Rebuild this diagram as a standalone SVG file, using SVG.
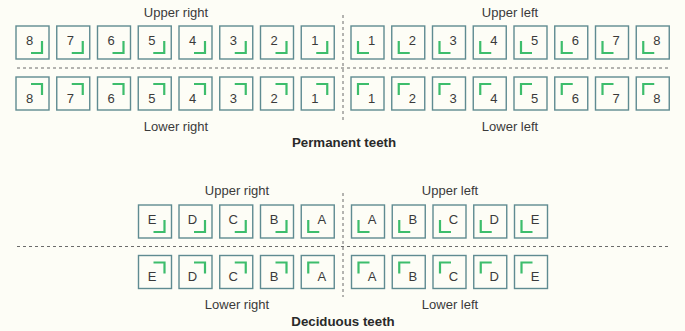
<svg xmlns="http://www.w3.org/2000/svg" width="685" height="331" viewBox="0 0 685 331">
<style>
.bg{fill:#fdfdf6}
.box{fill:none;stroke:#5f8b91;stroke-width:1.4}
.mk{fill:none;stroke:#3dbd6c;stroke-width:2.2}
.n{font-family:"Liberation Sans",Arial,sans-serif;font-size:13px;fill:#3a3a3a;text-anchor:middle}
.lbl{font-family:"Liberation Sans",Arial,sans-serif;font-size:13px;fill:#3a3a3a;text-anchor:middle}
.ttl{font-family:"Liberation Sans",Arial,sans-serif;font-size:13.3px;font-weight:bold;fill:#2a2a2a;text-anchor:middle}
.dash{stroke:#6b6b6b;stroke-width:1;stroke-dasharray:3 3;fill:none}
</style>
<defs>
<g id="ur"><rect class="box" x="0" y="0" width="33" height="33"/><path class="mk" d="M26,15 V27 H15"/></g>
<g id="ul"><rect class="box" x="0" y="0" width="33" height="33"/><path class="mk" d="M7,15 V27 H18"/></g>
<g id="lr"><rect class="box" x="0" y="0" width="33" height="33"/><path class="mk" d="M15,7 H26 V18"/></g>
<g id="ll"><rect class="box" x="0" y="0" width="33" height="33"/><path class="mk" d="M18,7 H7 V18"/></g>
</defs>
<rect class="bg" x="0" y="0" width="685" height="331"/>
<g id="connectors">
<path class="dash" d="M17,68 H669"/>
<path class="dash" d="M343,15 V120"/>
<path class="dash" d="M17,246.5 H669"/>
<path class="dash" d="M343,193 V297"/>
</g>
<g id="labels">
<text class="lbl" x="176" y="17">Upper right</text>
<text class="lbl" x="510" y="17">Upper left</text>
<text class="lbl" x="176" y="131">Lower right</text>
<text class="lbl" x="510" y="131">Lower left</text>
<text class="ttl" x="344" y="147">Permanent teeth</text>
<text class="lbl" x="237" y="195">Upper right</text>
<text class="lbl" x="450" y="195">Upper left</text>
<text class="lbl" x="237" y="309">Lower right</text>
<text class="lbl" x="450" y="309">Lower left</text>
<text class="ttl" x="343" y="326">Deciduous teeth</text>
</g>
<!-- Permanent upper right -->
<g id="p-ur-8" transform="translate(16,26)"><use href="#ur"/><text class="n" x="13.5" y="19">8</text></g>
<g id="p-ur-7" transform="translate(56.75,26)"><use href="#ur"/><text class="n" x="13.5" y="19">7</text></g>
<g id="p-ur-6" transform="translate(97.5,26)"><use href="#ur"/><text class="n" x="13.5" y="19">6</text></g>
<g id="p-ur-5" transform="translate(138.25,26)"><use href="#ur"/><text class="n" x="13.5" y="19">5</text></g>
<g id="p-ur-4" transform="translate(179,26)"><use href="#ur"/><text class="n" x="13.5" y="19">4</text></g>
<g id="p-ur-3" transform="translate(219.75,26)"><use href="#ur"/><text class="n" x="13.5" y="19">3</text></g>
<g id="p-ur-2" transform="translate(260.5,26)"><use href="#ur"/><text class="n" x="13.5" y="19">2</text></g>
<g id="p-ur-1" transform="translate(301.25,26)"><use href="#ur"/><text class="n" x="13.5" y="19">1</text></g>
<!-- Permanent upper left -->
<g id="p-ul-1" transform="translate(351,26)"><use href="#ul"/><text class="n" x="20.5" y="19">1</text></g>
<g id="p-ul-2" transform="translate(391.75,26)"><use href="#ul"/><text class="n" x="20.5" y="19">2</text></g>
<g id="p-ul-3" transform="translate(432.5,26)"><use href="#ul"/><text class="n" x="20.5" y="19">3</text></g>
<g id="p-ul-4" transform="translate(473.25,26)"><use href="#ul"/><text class="n" x="20.5" y="19">4</text></g>
<g id="p-ul-5" transform="translate(514,26)"><use href="#ul"/><text class="n" x="20.5" y="19">5</text></g>
<g id="p-ul-6" transform="translate(554.75,26)"><use href="#ul"/><text class="n" x="20.5" y="19">6</text></g>
<g id="p-ul-7" transform="translate(595.5,26)"><use href="#ul"/><text class="n" x="20.5" y="19">7</text></g>
<g id="p-ul-8" transform="translate(636.25,26)"><use href="#ul"/><text class="n" x="20.5" y="19">8</text></g>
<!-- Permanent lower right -->
<g id="p-lr-8" transform="translate(16,77)"><use href="#lr"/><text class="n" x="13.5" y="25.5">8</text></g>
<g id="p-lr-7" transform="translate(56.75,77)"><use href="#lr"/><text class="n" x="13.5" y="25.5">7</text></g>
<g id="p-lr-6" transform="translate(97.5,77)"><use href="#lr"/><text class="n" x="13.5" y="25.5">6</text></g>
<g id="p-lr-5" transform="translate(138.25,77)"><use href="#lr"/><text class="n" x="13.5" y="25.5">5</text></g>
<g id="p-lr-4" transform="translate(179,77)"><use href="#lr"/><text class="n" x="13.5" y="25.5">4</text></g>
<g id="p-lr-3" transform="translate(219.75,77)"><use href="#lr"/><text class="n" x="13.5" y="25.5">3</text></g>
<g id="p-lr-2" transform="translate(260.5,77)"><use href="#lr"/><text class="n" x="13.5" y="25.5">2</text></g>
<g id="p-lr-1" transform="translate(301.25,77)"><use href="#lr"/><text class="n" x="13.5" y="25.5">1</text></g>
<!-- Permanent lower left -->
<g id="p-ll-1" transform="translate(351,77)"><use href="#ll"/><text class="n" x="20.5" y="25.5">1</text></g>
<g id="p-ll-2" transform="translate(391.75,77)"><use href="#ll"/><text class="n" x="20.5" y="25.5">2</text></g>
<g id="p-ll-3" transform="translate(432.5,77)"><use href="#ll"/><text class="n" x="20.5" y="25.5">3</text></g>
<g id="p-ll-4" transform="translate(473.25,77)"><use href="#ll"/><text class="n" x="20.5" y="25.5">4</text></g>
<g id="p-ll-5" transform="translate(514,77)"><use href="#ll"/><text class="n" x="20.5" y="25.5">5</text></g>
<g id="p-ll-6" transform="translate(554.75,77)"><use href="#ll"/><text class="n" x="20.5" y="25.5">6</text></g>
<g id="p-ll-7" transform="translate(595.5,77)"><use href="#ll"/><text class="n" x="20.5" y="25.5">7</text></g>
<g id="p-ll-8" transform="translate(636.25,77)"><use href="#ll"/><text class="n" x="20.5" y="25.5">8</text></g>
<!-- Deciduous upper right -->
<g id="d-ur-E" transform="translate(138.5,205)"><use href="#ur"/><text class="n" x="13.5" y="18.5">E</text></g>
<g id="d-ur-D" transform="translate(179,205)"><use href="#ur"/><text class="n" x="13.5" y="18.5">D</text></g>
<g id="d-ur-C" transform="translate(219.75,205)"><use href="#ur"/><text class="n" x="13.5" y="18.5">C</text></g>
<g id="d-ur-B" transform="translate(260.5,205)"><use href="#ur"/><text class="n" x="13.5" y="18.5">B</text></g>
<g id="d-ur-A" transform="translate(301.25,205)"><use href="#ul"/><text class="n" x="20.5" y="18.5">A</text></g>
<!-- Deciduous upper left -->
<g id="d-ul-A" transform="translate(351.5,205)"><use href="#ul"/><text class="n" x="20.5" y="18.5">A</text></g>
<g id="d-ul-B" transform="translate(392.25,205)"><use href="#ul"/><text class="n" x="20.5" y="18.5">B</text></g>
<g id="d-ul-C" transform="translate(433,205)"><use href="#ul"/><text class="n" x="20.5" y="18.5">C</text></g>
<g id="d-ul-D" transform="translate(473.75,205)"><use href="#ul"/><text class="n" x="20.5" y="18.5">D</text></g>
<g id="d-ul-E" transform="translate(514.5,205)"><use href="#ul"/><text class="n" x="20.5" y="18.5">E</text></g>
<!-- Deciduous lower right -->
<g id="d-lr-E" transform="translate(138.5,255.5)"><use href="#lr"/><text class="n" x="13.5" y="25.5">E</text></g>
<g id="d-lr-D" transform="translate(179,255.5)"><use href="#lr"/><text class="n" x="13.5" y="25.5">D</text></g>
<g id="d-lr-C" transform="translate(219.75,255.5)"><use href="#lr"/><text class="n" x="13.5" y="25.5">C</text></g>
<g id="d-lr-B" transform="translate(260.5,255.5)"><use href="#lr"/><text class="n" x="13.5" y="25.5">B</text></g>
<g id="d-lr-A" transform="translate(301.25,255.5)"><use href="#ll"/><text class="n" x="20.5" y="25.5">A</text></g>
<!-- Deciduous lower left -->
<g id="d-ll-A" transform="translate(351.5,255.5)"><use href="#ll"/><text class="n" x="20.5" y="25.5">A</text></g>
<g id="d-ll-B" transform="translate(392.25,255.5)"><use href="#ll"/><text class="n" x="20.5" y="25.5">B</text></g>
<g id="d-ll-C" transform="translate(433,255.5)"><use href="#ll"/><text class="n" x="20.5" y="25.5">C</text></g>
<g id="d-ll-D" transform="translate(473.75,255.5)"><use href="#ll"/><text class="n" x="20.5" y="25.5">D</text></g>
<g id="d-ll-E" transform="translate(514.5,255.5)"><use href="#ll"/><text class="n" x="20.5" y="25.5">E</text></g>
</svg>
